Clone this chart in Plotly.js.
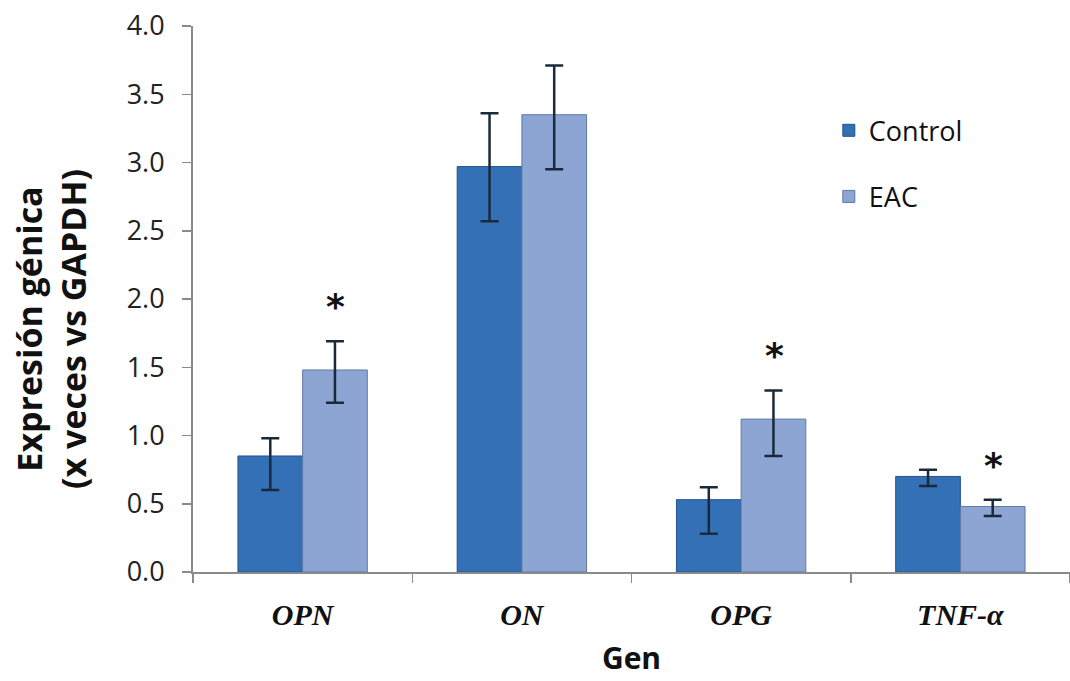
<!DOCTYPE html>
<html>
<head>
<meta charset="utf-8">
<script src="https://cdn.plot.ly/plotly-3.0.1.min.js"></script>
<style>html,body{margin:0;padding:0;background:#fff;}#chart{width:1070px;height:681px;}</style>
</head>
<body>
<div id="chart"></div>
<script>
var genes = ['OPN', 'ON', 'OPG', 'TNF-α'];
var controlValues = [0.85, 2.97, 0.53, 0.70];
var controlErrPlus = [0.13, 0.39, 0.09, 0.05];
var controlErrMinus = [0.25, 0.40, 0.25, 0.07];
var eacValues = [1.48, 3.35, 1.12, 0.48];
var eacErrPlus = [0.21, 0.36, 0.21, 0.05];
var eacErrMinus = [0.24, 0.40, 0.27, 0.07];
var starGenes = ['OPN', 'OPG', 'TNF-α'];
var yTitle = 'Expresión génica<br>(x veces vs GAPDH)';

var errStyle = {color: '#1a2a3a', thickness: 2.5, width: 9};

var traces = [
  {
    type: 'bar', name: 'Control', x: genes, y: controlValues,
    legendgroup: 'a',
    marker: {color: '#3470b6', line: {color: '#24528a', width: 1}},
    error_y: Object.assign({type: 'data', symmetric: false, array: controlErrPlus, arrayminus: controlErrMinus}, errStyle)
  },
  {
    type: 'bar', name: 'EAC', x: genes, y: eacValues,
    legendgroup: 'b',
    marker: {color: '#8ca5d2', line: {color: '#5f79a8', width: 1}},
    error_y: Object.assign({type: 'data', symmetric: false, array: eacErrPlus, arrayminus: eacErrMinus}, errStyle)
  }
];

var annotations = starGenes.map(function (g) {
  var i = genes.indexOf(g);
  return {
    x: g, y: eacValues[i] + eacErrPlus[i], xref: 'x', yref: 'y',
    xshift: 33, yshift: 12, yanchor: 'bottom', showarrow: false,
    text: '<b>*</b>', font: {family: 'DejaVu Sans', size: 36, color: '#111'}
  };
});
annotations.push({
  xref: 'paper', yref: 'paper', x: -0.162, y: 0.445,
  xanchor: 'center', yanchor: 'middle', textangle: -90, showarrow: false,
  text: yTitle, align: 'center',
  font: {family: 'Open Sans', size: 34, color: '#111', weight: 'bold'}
});

var layout = {
  width: 1070, height: 681,
  margin: {l: 193, r: 0, t: 26, b: 109},
  paper_bgcolor: '#fff', plot_bgcolor: '#fff',
  barmode: 'group', bargap: 0.41, bargroupgap: 0,
  showlegend: true,
  legend: {
    x: 0.725, y: 0.853, xanchor: 'left', yanchor: 'top',
    font: {family: 'Open Sans', size: 27, color: '#111'},
    tracegroupgap: 28, bgcolor: 'rgba(0,0,0,0)'
  },
  xaxis: {
    type: 'category',
    showline: true, linecolor: '#8a8a8a', linewidth: 2,
    ticks: 'outside', tickson: 'boundaries', ticklen: 9, tickcolor: '#8a8a8a', tickwidth: 1.5,
    ticklabelstandoff: 15,
    tickfont: {family: 'Liberation Serif', size: 30, color: '#111', weight: 'bold', style: 'italic'},
    title: {text: 'Gen', font: {family: 'Open Sans', size: 30, color: '#111', weight: 'bold'}, standoff: 18},
    showgrid: false, zeroline: false
  },
  yaxis: {
    range: [0, 4], dtick: 0.5, tickformat: '.1f',
    showline: true, linecolor: '#8a8a8a', linewidth: 2,
    ticks: 'outside', ticklen: 9, tickcolor: '#8a8a8a', tickwidth: 1.5,
    ticklabelstandoff: 12,
    tickfont: {family: 'Open Sans', size: 27, color: '#222'},
    showgrid: false, zeroline: false
  },
  annotations: annotations
};

Plotly.newPlot('chart', traces, layout, {displayModeBar: false, staticPlot: true});
</script>
</body>
</html>
